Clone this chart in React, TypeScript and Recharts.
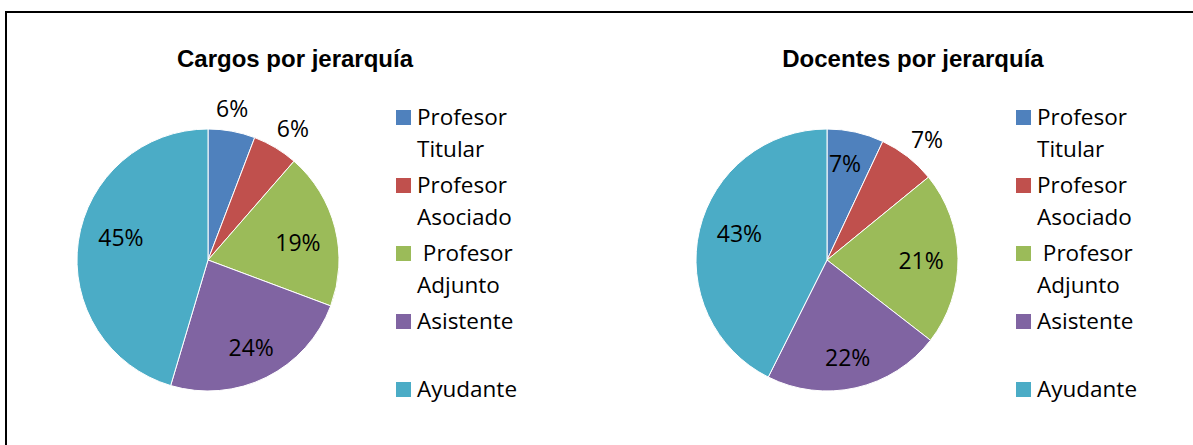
import React from 'react';
import { PieChart, Pie, Cell, Legend } from 'recharts';

const categories = ['Profesor Titular', 'Profesor Asociado', 'Profesor Adjunto', 'Asistente', 'Ayudante'];
const legendLines: string[][] = [
  ['Profesor', 'Titular'],
  ['Profesor', 'Asociado'],
  [' Profesor', 'Adjunto'],
  ['Asistente', ''],
  ['Ayudante', ''],
];
const cargosValues = [5.8, 5.6, 19.3, 23.9, 45.4];
const docentesValues = [7.0, 7.1, 21.4, 21.9, 42.6];
const titles = ['Cargos por jerarquía', 'Docentes por jerarquía'];
const colors = ['#4F81BD', '#C0504D', '#9BBB59', '#8064A2', '#4BACC6'];

// label placement (style): radial factor of outer radius, and clockwise angle nudge in degrees
const cargosLabelR = [1.176, 1.198, 0.7, 0.74, 0.687];
const cargosLabelNudge = [-1.4, 1.8, 2.9, 0, 6.3];
const docentesLabelR = [0.756, 1.198, 0.718, 0.756, 0.7];
const docentesLabelNudge = [-2.1, 1.6, 0.5, 0.7, 4];

const FONT = '"Open Sans", "DejaVu Sans", sans-serif';
const RAD = Math.PI / 180;

const cargosData = categories.map((name, i) => ({ name, value: cargosValues[i] }));
const docentesData = categories.map((name, i) => ({ name, value: docentesValues[i] }));

const makeLabel = (factors: number[], nudges: number[]) => (props: any) => {
  const { cx, cy, midAngle, outerRadius, percent, index } = props;
  const r = outerRadius * factors[index];
  const a = midAngle - nudges[index];
  const x = cx + r * Math.cos(-a * RAD);
  const y = cy + r * Math.sin(-a * RAD);
  return (
    <text
      x={x}
      y={y}
      fill="#000"
      textAnchor="middle"
      dominantBaseline="central"
      fontFamily={FONT}
      fontSize={23}
    >
      {`${Math.round(percent * 100)}%`}
    </text>
  );
};

const LegendContent = () => (
  <svg width={190} height={320} style={{ overflow: 'visible' }}>
    {legendLines.map((lines, i) => (
      <g key={i}>
        <rect x={0} y={10 + i * 68} width={15} height={15} fill={colors[i]} />
        <text
          x={21}
          y={25 + i * 68}
          fontFamily={FONT}
          fontSize={22.5}
          fill="#000"
          style={{ whiteSpace: 'pre' }}
        >
          {lines[0]}
        </text>
        {lines[1] ? (
          <text x={21} y={57 + i * 68} fontFamily={FONT} fontSize={22.5} fill="#000">
            {lines[1]}
          </text>
        ) : null}
      </g>
    ))}
  </svg>
);

function OnePie({
  data,
  labelR,
  labelNudge,
  cx,
  legendLeft,
  width,
}: {
  data: { name: string; value: number }[];
  labelR: number[];
  labelNudge: number[];
  cx: number;
  legendLeft: number;
  width: number;
}) {
  return (
    <PieChart width={width} height={445} margin={{ top: 0, right: 0, bottom: 0, left: 0 }}>
      <Pie
        data={data}
        dataKey="value"
        nameKey="name"
        cx={cx}
        cy={260}
        outerRadius={131}
        startAngle={90}
        endAngle={-270}
        stroke="#ffffff"
        strokeWidth={1}
        labelLine={false}
        label={makeLabel(labelR, labelNudge)}
        isAnimationActive={false}
      >
        {data.map((d, i) => (
          <Cell key={d.name} fill={colors[i]} />
        ))}
      </Pie>
      <Legend
        content={LegendContent}
        wrapperStyle={{ position: 'absolute', left: legendLeft, top: 100, width: 190, height: 320 }}
      />
    </PieChart>
  );
}

export default function App() {
  return (
    <div
      style={{
        position: 'absolute',
        left: 0,
        top: 0,
        width: 1193,
        height: 445,
        overflow: 'hidden',
        background: '#fff',
      }}
    >
      <div
        style={{
          position: 'absolute',
          left: 5,
          top: 11,
          width: 1400,
          height: 600,
          borderTop: '2px solid #000',
          borderLeft: '2px solid #000',
        }}
      />
      <div style={{ position: 'absolute', left: 0, top: 0 }}>
        <OnePie
          data={cargosData}
          labelR={cargosLabelR}
          labelNudge={cargosLabelNudge}
          cx={208}
          legendLeft={396}
          width={600}
        />
      </div>
      <div style={{ position: 'absolute', left: 600, top: 0 }}>
        <OnePie
          data={docentesData}
          labelR={docentesLabelR}
          labelNudge={docentesLabelNudge}
          cx={227}
          legendLeft={416}
          width={593}
        />
      </div>
      <svg
        width={1193}
        height={445}
        style={{ position: 'absolute', left: 0, top: 0, pointerEvents: 'none' }}
      >
        <text x={295} y={67} textAnchor="middle" fontFamily='"Liberation Sans", Arial, sans-serif' fontWeight="bold" fontSize={24} fill="#000">
          {titles[0]}
        </text>
        <text x={913} y={67} textAnchor="middle" fontFamily='"Liberation Sans", Arial, sans-serif' fontWeight="bold" fontSize={24} fill="#000">
          {titles[1]}
        </text>
      </svg>
    </div>
  );
}
